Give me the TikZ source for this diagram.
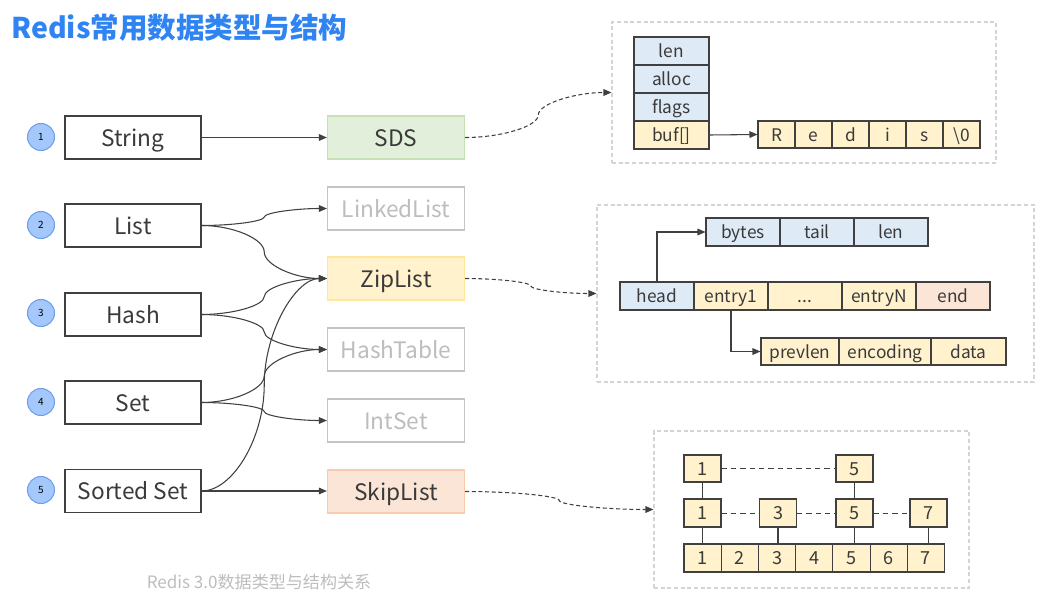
\documentclass[tikz,border=0pt]{standalone}
\usepackage{fontspec}
\setmainfont{Noto Sans CJK SC}
\usetikzlibrary{arrows.meta,calc}
\definecolor{lineC}{HTML}{404040}
\definecolor{txtC}{HTML}{3A3A3A}
\definecolor{titleC}{HTML}{2F84F2}
\definecolor{numF}{HTML}{A4C8FB}
\definecolor{numB}{HTML}{6F9FEA}
\definecolor{grayT}{HTML}{BDBDBD}
\definecolor{sdsF}{HTML}{E2EFDA}
\definecolor{sdsB}{HTML}{C5E0B4}
\definecolor{zipF}{HTML}{FFF2CC}
\definecolor{zipB}{HTML}{FFE699}
\definecolor{skF}{HTML}{FBE5D6}
\definecolor{skB}{HTML}{F8CBAD}
\definecolor{bluF}{HTML}{DEEBF7}
\definecolor{grpC}{HTML}{D4D4D4}
\newlength\pxu
\setlength\pxu{0.75pt}
\tikzset{
  typebox/.style={draw=lineC, line width=0.9pt, fill=white, minimum width=136\pxu, minimum height=43\pxu, inner sep=0pt, text=txtC, font=\fontsize{17}{19}\selectfont, text height=12.9pt, text depth=0pt},
  encbox/.style={line width=0.9pt, minimum width=137\pxu, minimum height=43\pxu, inner sep=0pt, text=txtC, font=\fontsize{17}{19}\selectfont, text height=12.9pt, text depth=0pt},
  grayenc/.style={encbox, draw=grayT!90, fill=white, text=grayT},
  numc/.style={circle, draw=numB, line width=0.8pt, fill=numF, minimum size=27\pxu, inner sep=0pt, text=black, font=\fontsize{7.5}{8}\selectfont},
  cell/.style={draw=lineC, line width=0.8pt, inner sep=0pt, text=txtC, font=\fontsize{13}{15}\selectfont, text height=9.8pt, text depth=0pt},
  bcell/.style={cell, fill=bluF},
  ycell/.style={cell, fill=zipF},
  pcell/.style={cell, fill=skF},
  grp/.style={draw=grpC, line width=0.8pt, dash pattern=on 3pt off 2pt, inner sep=0pt},
  conn/.style={draw=lineC, line width=0.8pt, -{Triangle[length=6pt,width=5pt]}},
  dconn/.style={conn, dash pattern=on 3pt off 2pt},
  sline/.style={draw=lineC, line width=0.8pt},
  dline/.style={draw=lineC, line width=0.7pt, dash pattern=on 4pt off 3pt},
  curv/.style={to path={let \p1=(\tikztostart), \p2=(\tikztotarget) in
     .. controls ({(3*\x1+\x2)/4},\y1) and ({(\x1+\x2)/2},{(3*\y1+\y2)/4}) .. ({(\x1+\x2)/2},{(\y1+\y2)/2})
     .. controls ({(\x1+\x2)/2},{(\y1+3*\y2)/4}) and ({(\x1+3*\x2)/4},\y2) .. (\tikztotarget)}}
}
\begin{document}
\begin{tikzpicture}[x=0.75pt,y=-0.75pt]
\useasboundingbox (0,0) rectangle (1038,603);
% title
\node[anchor=west, text=titleC, font=\fontsize{21.4}{25}\selectfont\bfseries, inner sep=0pt] (title) at (11,28) {Redis常用数据类型与结构};
% numbers
\node[numc] (n1) at (41,137) {1};
\node[numc] (n2) at (41,225) {2};
\node[numc] (n3) at (41,313) {3};
\node[numc] (n4) at (41,402) {4};
\node[numc] (n5) at (41,490) {5};
% types
\node[typebox] (tS) at (133,137.5) {String};
\node[typebox] (tL) at (133,225.5) {List};
\node[typebox] (tH) at (133,314.5) {Hash};
\node[typebox] (tSet) at (133,402.5) {Set};
\node[typebox] (tZ) at (133,491) {Sorted Set};
% encodings
\node[encbox, draw=sdsB, fill=sdsF] (eSDS) at (396,137.5) {SDS};
\node[grayenc] (eLL) at (396,208.5) {LinkedList};
\node[encbox, draw=zipB, fill=zipF] (eZL) at (396,278.5) {ZipList};
\node[grayenc] (eHT) at (396,349.5) {HashTable};
\node[grayenc] (eIS) at (396,420.5) {IntSet};
\node[encbox, draw=skB, fill=skF] (eSK) at (396,491.5) {SkipList};
% connectors types -> encodings
\draw[conn] (tS.east) -- (eSDS.west);
\draw[conn] (tL.east) to[curv] (eLL.west);
\draw[conn] (tL.east) to[curv] (eZL.west);
\draw[conn] (tH.east) to[curv] (eZL.west);
\draw[conn] (tH.east) to[curv] (eHT.west);
\draw[conn] (tSet.east) to[curv] (eHT.west);
\draw[conn] (tSet.east) to[curv] (eIS.west);
\draw[conn] (tZ.east) to[curv] (eZL.west);
\draw[conn] (tZ.east) -- (tZ.east -| eSK.west);
% groups
\node[grp, minimum width=384\pxu, minimum height=141\pxu] (g1) at (804,92.5) {};
\node[grp, minimum width=437\pxu, minimum height=177\pxu] (g2) at (815.5,293.5) {};
\node[grp, minimum width=315\pxu, minimum height=157\pxu] (g3) at (811.5,509.5) {};
\draw[dconn] (eSDS.east) to[curv] (g1.west);
\draw[dconn] (eZL.east) to[curv] (g2.west);
\draw[dconn] (eSK.east) to[curv] (g3.west);
% SDS struct
\node[bcell, minimum width=75\pxu, minimum height=28\pxu] (sLen) at (671.5,51) {len};
\node[bcell, minimum width=75\pxu, minimum height=28\pxu] (sAlloc) at (671.5,79) {alloc};
\node[bcell, minimum width=75\pxu, minimum height=28\pxu] (sFlags) at (671.5,107) {flags};
\node[ycell, minimum width=75\pxu, minimum height=28\pxu] (sBuf) at (671.5,135) {buf[]};
\foreach \c/\t [count=\i] in {776.5/R,813.5/e,850.5/d,887.5/i,924.5/s,961.5/\textbackslash0}{
  \node[ycell, minimum width=37\pxu, minimum height=27\pxu] (ch\i) at (\c,134.5) {\t};
}
\draw[conn] (sBuf.east) -- (ch1.west);
% ZipList struct
\node[bcell, minimum width=74\pxu, minimum height=28\pxu] (zBytes) at (743,232) {bytes};
\node[bcell, minimum width=74\pxu, minimum height=28\pxu] (zTail) at (817,232) {tail};
\node[bcell, minimum width=74\pxu, minimum height=28\pxu] (zLen) at (891,232) {len};
\node[bcell, minimum width=74\pxu, minimum height=28\pxu] (zHead) at (657,296) {head};
\node[ycell, minimum width=74\pxu, minimum height=28\pxu] (zE1) at (731,296) {entry1};
\node[ycell, minimum width=74\pxu, minimum height=28\pxu] (zDots) at (805,296) {...};
\node[ycell, minimum width=74\pxu, minimum height=28\pxu] (zEN) at (879,296) {entryN};
\node[pcell, minimum width=74\pxu, minimum height=28\pxu] (zEnd) at (953,296) {end};
\node[ycell, minimum width=78\pxu, minimum height=27\pxu] (zPrev) at (800,351.5) {prevlen};
\node[ycell, minimum width=92\pxu, minimum height=27\pxu] (zEnc) at (885,351.5) {encoding};
\node[ycell, minimum width=75\pxu, minimum height=27\pxu] (zData) at (968.5,351.5) {data};
\draw[conn] (zHead.north) |- (zBytes.west);
\draw[conn] (zE1.south) |- (zPrev.west);
% SkipList struct
\tikzset{sk/.style={ycell, minimum width=37\pxu, minimum height=28\pxu, font=\fontsize{13.5}{15}\selectfont, text height=10.2pt}}
\node[sk, minimum height=27\pxu] (a1) at (702.5,468.5) {1};
\node[sk, minimum height=27\pxu] (a5) at (854.5,468.5) {5};
\node[sk] (b1) at (702.5,513) {1};
\node[sk] (b3) at (778,513) {3};
\node[sk] (b5) at (854.5,513) {5};
\node[sk] (b7) at (928.5,513) {7};
\foreach \c [count=\i] in {702.6,739.9,777.1,814.3,851.5,888.7,925.9}{
  \node[sk, minimum width=37.2\pxu] (c\i) at (\c,558) {\i};
}
\draw[dline] (a1.east) -- (a5.west);
\draw[dline] (b1.east) -- (b3.west);
\draw[dline] (b3.east) -- (b5.west);
\draw[dline] (b5.east) -- (b7.west);
\draw[sline] (a1.south) -- (b1.north);
\draw[sline] (a5.south) -- (b5.north);
\draw[sline] (b1.south) -- (b1.south |- c1.north);
\draw[sline] (b3.south) -- (b3.south |- c3.north);
\draw[sline] (b5.south) -- (b5.south |- c5.north);
\draw[sline] (b7.south) -- (b7.south |- c7.north);
% caption
\node[text=grayT, font=\fontsize{12.8}{15}\selectfont, inner sep=0pt] (cap) at (259,582) {Redis 3.0数据类型与结构关系};
\end{tikzpicture}
\end{document}
